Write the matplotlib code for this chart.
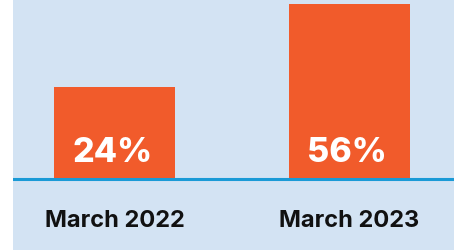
import matplotlib
matplotlib.use("Agg")
import matplotlib.pyplot as plt

categories = ["March 2022", "March 2023"]
values = [24, 56]
value_labels = ["24%", "56%"]

BG = "#d3e3f3"
ORANGE = "#f15b2b"
LINE = "#1a9ad6"

W, H = 454, 251
fig = plt.figure(figsize=(W / 100, H / 100), dpi=100)
fig.patch.set_facecolor("white")
ax = fig.add_axes([13 / W, 0, (W - 13) / W, 1])
ax.set_facecolor(BG)

base = -11.5
x = list(range(len(categories)))
ax.bar(x, [v - base for v in values], bottom=base, width=0.515, color=ORANGE, zorder=2)
ax.axhline(base, color=LINE, lw=2.2, zorder=3)

ax.set_xlim(-0.432, 1.445)
ax.set_ylim(-38.87, 57.93)

for xi, lab, cat in zip(x, value_labels, categories):
    ax.annotate(lab, (xi, base), xytext=(-1.5, 13.2), textcoords="offset points",
                ha="center", va="baseline", color="white", fontsize=24.5,
                fontweight="heavy", family=["Inter", "DejaVu Sans"], zorder=4)
    ax.annotate(cat, (xi, base), xytext=(0, -33.6), textcoords="offset points",
                ha="center", va="baseline", color="#111111", fontsize=17.0,
                fontweight="bold", family=["Inter", "DejaVu Sans"], zorder=4)

for s in ax.spines.values():
    s.set_visible(False)
ax.set_xticks([])
ax.set_yticks([])

fig.savefig("out.png", dpi=100, facecolor=fig.get_facecolor())
